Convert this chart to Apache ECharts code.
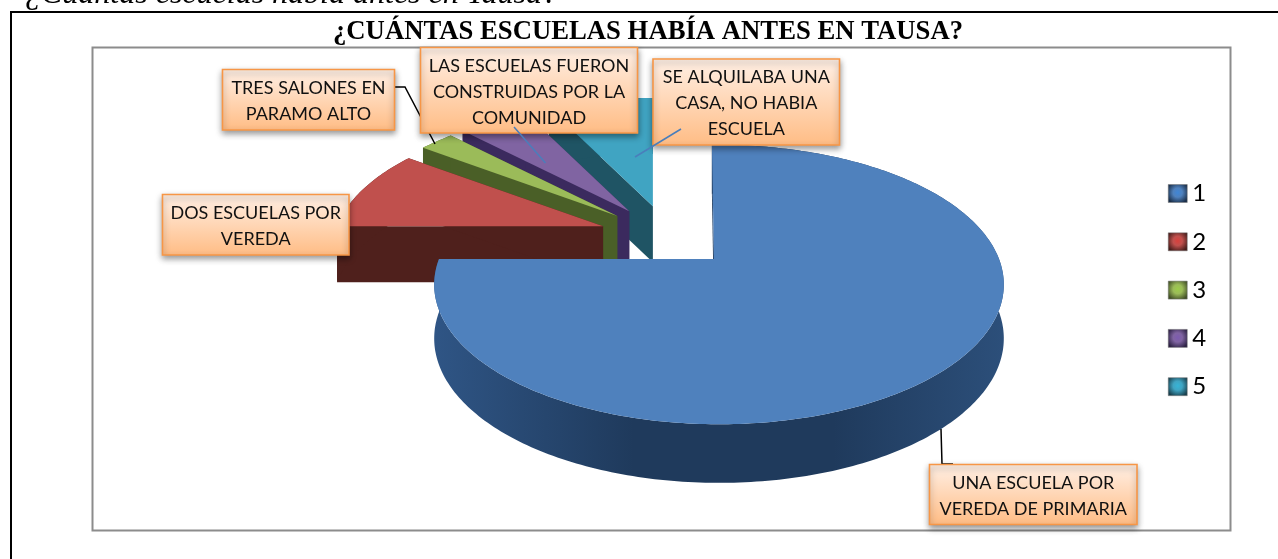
<!DOCTYPE html>
<html>
<head>
<meta charset="utf-8">
<style>html,body{margin:0;padding:0;background:#fff}#c{width:1278px;height:559px}</style>
<script src="https://cdn.jsdelivr.net/npm/echarts@6/dist/echarts.min.js"></script>
</head>
<body>
<div id="c"></div>
<script>
const categories = ['1', '2', '3', '4', '5'];
const values = [30, 4, 1, 2, 3];
const calloutTexts = [
  'UNA ESCUELA POR\nVEREDA DE PRIMARIA',
  'DOS ESCUELAS POR\nVEREDA',
  'TRES SALONES EN\nPARAMO ALTO',
  'LAS ESCUELAS FUERON\nCONSTRUIDAS POR LA\nCOMUNIDAD',
  'SE ALQUILABA UNA\nCASA, NO HABIA\nESCUELA'
];
const pageHeading = '¿Cuántas escuelas había antes en Tausa?';
const chartTitle = '¿CUÁNTAS ESCUELAS HABÍA ANTES EN TAUSA?';

const G = echarts.graphic;
const topColors = ['#4f81bd', '#c0504d', '#9bbb59', '#8064a2', '#40a4c2'];
const wallColors = ['#1f3a5c', '#4f201c', '#4a5f27', '#3b2a5e', '#1f5464'];
const centerColors = ['#3f86d6', '#d8403c', '#9ccc4a', '#7d5bb0', '#36b4d6'];
const edgeColors = ['#1a2e48', '#451c1a', '#414f26', '#2c2143', '#183f4c'];

// Projection of the tilted pie
const CX = 714, CY = 259, RX = 280, RY = 135, K = 0.183, EXPLODE = 0.25;
const BLUE_SHIFT = 5, BLUE_TRIM = 0.03, SLICE_SCALE = 0.95, BLUE_DEPTH = 53, SLICE_DEPTH = 56;
const total = values.reduce((a, b) => a + b, 0);

function project(u, v) {
  const w = 1 - K * v;
  return [CX + RX * u / w, CY + RY * v / w, w];
}
function sliceAngles(i) {
  let s = 0;
  for (let j = 0; j < i; j++) s += values[j];
  return [s / total * 2 * Math.PI, (s + values[i]) / total * 2 * Math.PI];
}
function offset(i) {
  const a = sliceAngles(i), m = (a[0] + a[1]) / 2;
  const a0 = sliceAngles(0), m0 = (a0[0] + a0[1]) / 2;
  return [(Math.sin(m) - Math.sin(m0)) * EXPLODE, (-Math.cos(m) + Math.cos(m0)) * EXPLODE];
}
function renderSlice(params, api) {
  const i = params.seriesIndex;
  const val = api.value(0);
  const a = sliceAngles(i);
  const start = a[0] - (i === 0 ? BLUE_TRIM : 0);
  const end = a[0] + val / total * 2 * Math.PI;
  const o = offset(i);
  const apex = project(o[0], o[1]);
  const apexPt = [apex[0], apex[1], SLICE_DEPTH];
  if (i === 0) apexPt[2] = BLUE_DEPTH;
  const steps = Math.max(8, Math.round((end - start) * 60));
  const arc = [];
  for (let s = 0; s <= steps; s++) {
    const t = start + (end - start) * s / steps;
    const p = project(Math.sin(t), -Math.cos(t));
    if (i === 0) {
      arc.push([p[0] + BLUE_SHIFT, p[1], BLUE_DEPTH / Math.sqrt(p[2])]);
    } else {
      arc.push([apex[0] + SLICE_SCALE * (p[0] - CX), apex[1] + SLICE_SCALE * (p[1] - CY), SLICE_DEPTH]);
    }
  }
  const down = p => [p[0], p[1] + p[2]];
  const up = p => [p[0], p[1]];
  const wall = pts => ({
    type: 'polygon',
    shape: { points: pts },
    style: { fill: wallFill(i) }
  });
  const children = [];
  children.push(wall([up(apexPt), up(arc[0]), down(arc[0]), down(apexPt)]));
  children.push(wall([up(apexPt), up(arc[steps]), down(arc[steps]), down(apexPt)]));
  children.push(wall(arc.map(up).concat(arc.slice().reverse().map(down))));
  children.push({
    type: 'polygon',
    shape: { points: [up(apexPt)].concat(arc.map(up)) },
    style: { fill: topColors[i] }
  });
  return { type: 'group', children };
}
function wallFill(i) {
  if (i !== 0) return wallColors[i];
  return new G.LinearGradient(0, 0, 1, 0, [
    { offset: 0, color: '#2f5585' },
    { offset: 0.35, color: '#1f3a5c' },
    { offset: 0.7, color: '#1f3a5c' },
    { offset: 1, color: '#2c4f7a' }
  ]);
}

function callout(i, x0, y0, x1, y1) {
  return [{
    type: 'rect', z: 100,
    shape: { x: x0, y: y0, width: x1 - x0, height: y1 - y0 },
    style: {
      fill: new G.LinearGradient(0, 0, 0, 1, [
        { offset: 0, color: '#fff0e6' },
        { offset: 1, color: '#ffbc84' }
      ]),
      stroke: '#f79646', lineWidth: 1.6,
      shadowBlur: 6, shadowOffsetY: 3, shadowOffsetX: 0, shadowColor: 'rgba(0,0,0,0.4)'
    }
  }, {
    type: 'text', z: 101,
    x: (x0 + x1) / 2, y: (y0 + y1) / 2 + 1.5,
    style: {
      text: calloutTexts[i], fill: '#111', textAlign: 'center', textVerticalAlign: 'middle',
      font: '18px Lato', lineHeight: 26
    }
  }];
}
function line(points, color, width, z) {
  return { type: 'polyline', z, shape: { points }, style: { stroke: color, lineWidth: width, fill: 'none' } };
}

const chart = echarts.init(document.getElementById('c'), null, { renderer: 'canvas' });
chart.setOption({
  animation: false,
  backgroundColor: '#fff',
  title: {
    text: chartTitle, left: 333, top: 19, padding: 0,
    textStyle: { fontFamily: 'Liberation Serif', fontWeight: 'bold', fontSize: 26.7, color: '#000' }
  },
  legend: {
    orient: 'vertical', left: 1168, top: 181.5, padding: 0,
    itemWidth: 19, itemHeight: 18, itemGap: 24.3,
    textStyle: { fontFamily: 'Lato', fontSize: 24, color: '#000', padding: [0, 0, 0, 0] },
    data: categories.map((name, i) => ({
      name,
      icon: 'rect',
      itemStyle: {
        color: new G.RadialGradient(0.5, 0.45, 0.62, [
          { offset: 0, color: centerColors[i] },
          { offset: 0.4, color: topColors[i] },
          { offset: 1, color: edgeColors[i] }
        ]),
        borderColor: '#777', borderWidth: 0.5
      }
    }))
  },
  series: categories.map((name, i) => ({
    type: 'custom', name, coordinateSystem: 'none', z: 5 - i + 1,
    itemStyle: { color: topColors[i] },
    renderItem: renderSlice,
    data: [[values[i]]],
    silent: true
  })),
  graphic: { elements: [
    { type: 'rect', z: 0, shape: { x: 92.5, y: 47.5, width: 1138, height: 483 }, style: { fill: 'none', stroke: '#8c8c8c', lineWidth: 2 } },
    { type: 'line', z: 0, shape: { x1: 11, y1: 12, x2: 11, y2: 559 }, style: { stroke: '#000', lineWidth: 2 } },
    { type: 'line', z: 0, shape: { x1: 10, y1: 12, x2: 1278, y2: 12 }, style: { stroke: '#000', lineWidth: 2 } },
    {
      type: 'text', z: 10, x: 25, y: 11,
      style: { text: pageHeading, font: 'italic 32px "Liberation Serif"', fill: '#000', textVerticalAlign: 'bottom' }
    },
    line([[395, 87], [405, 87], [435, 144]], '#000', 1.5, 90),
    line([[941, 429], [942, 464], [953, 464]], '#000', 1.5, 90),
    ...callout(0, 929.5, 464.5, 1137, 524.5),
    ...callout(1, 162.5, 194.5, 349, 255),
    ...callout(2, 222.5, 69.5, 394.5, 130),
    ...callout(3, 420.5, 47.5, 637.5, 133),
    ...callout(4, 653, 59, 839.5, 145),
    line([[514, 127], [545.5, 163]], '#4a7ebb', 1.5, 110),
    line([[681, 129], [635, 157]], '#4a7ebb', 1.5, 110)
  ] }
});
</script>
</body>
</html>
